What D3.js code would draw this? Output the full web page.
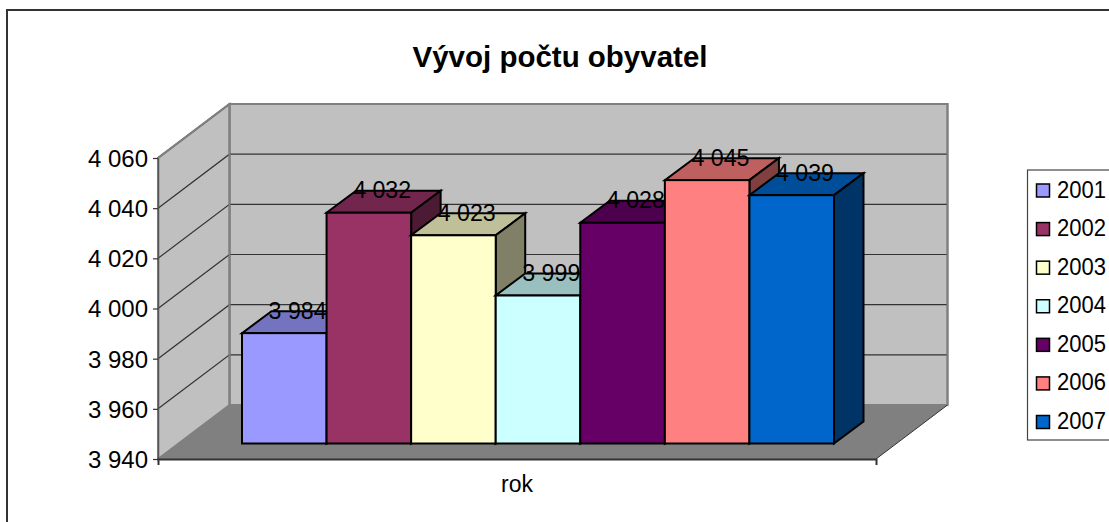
<!DOCTYPE html>
<html><head><meta charset="utf-8">
<script src="https://cdn.jsdelivr.net/npm/d3@7"></script>
<style>
html,body{margin:0;padding:0;background:#fff;overflow:hidden}
svg{display:block}
text{font-family:"Liberation Sans",Arial,sans-serif;fill:#000}
</style></head><body>
<svg id="c" width="1109" height="522"></svg>
<script>
const titleText = "Vývoj počtu obyvatel";
const categoryLabel = "rok";
const years = ["2001","2002","2003","2004","2005","2006","2007"];
const values = [3984,4032,4023,3999,4028,4045,4039];
const labels = ["3 984","4 032","4 023","3 999","4 028","4 045","4 039"];
const colors = ["#9999FF","#993366","#FFFFCC","#CCFFFF","#660066","#FF8080","#0066CC"];
const tickValues = [3940,3960,3980,4000,4020,4040,4060];
const tickLabels = ["3 940","3 960","3 980","4 000","4 020","4 040","4 060"];

const svg = d3.select("#c");
// frame
svg.append("rect").attr("x",7).attr("y",10).attr("width",1200).attr("height",600)
  .attr("fill","#fff").attr("stroke","#333").attr("stroke-width",2);

svg.append("text").attr("x",560).attr("y",67).attr("text-anchor","middle")
  .attr("font-size",29).attr("font-weight","bold")
  .attr("textLength",295).attr("lengthAdjust","spacingAndGlyphs").text(titleText);

// oblique 3D: wall plane offset
const y = d3.scaleLinear().domain([3940,4060]).range([459,158]);
const xCat = d3.scaleBand().domain([categoryLabel]).range([158,876]);
const dx = 71.5, dy = -54;           // full chart depth
const barDX = 29.5, barDY = -22;     // bar depth
const barFrontDY = -15.5;            // front face offset from chart front
const xBar = d3.scaleBand().domain(years).range([242,834]);
const pts = a => a.map(p=>p.join(",")).join(" ");
const x0 = xCat.range()[0], x1 = xCat.range()[1];
const yMin = y(tickValues[0]), yMax = y(tickValues[tickValues.length-1]);

// back wall
svg.append("polygon").attr("points",pts([[x0+dx,yMin+dy],[x1+dx,yMin+dy],[x1+dx,yMax+dy],[x0+dx,yMax+dy]]))
  .attr("fill","#C0C0C0").attr("stroke","#808080").attr("stroke-width",2);
// side wall
svg.append("polygon").attr("points",pts([[x0,yMin],[x0+dx,yMin+dy],[x0+dx,yMax+dy],[x0,yMax]]))
  .attr("fill","#C0C0C0").attr("stroke","#808080").attr("stroke-width",2);
// floor
svg.append("polygon").attr("points",pts([[x0,yMin],[x1,yMin],[x1+dx,yMin+dy],[x0+dx,yMin+dy]]))
  .attr("fill","#808080");
svg.append("line").attr("x1",x1).attr("y1",yMin).attr("x2",x1+dx).attr("y2",yMin+dy)
  .attr("stroke","#333").attr("stroke-width",1);
// gridlines
tickValues.slice(1).forEach(v=>{
  svg.append("polyline").attr("fill","none").attr("stroke","#333").attr("stroke-width",1.2)
    .attr("points",pts([[x0,y(v)],[x0+dx,y(v)+dy],[x1+dx,y(v)+dy]]));
});
// re-stroke the top edge and left corner in wall grey
svg.append("polyline").attr("fill","none").attr("stroke","#808080").attr("stroke-width",2)
  .attr("points",pts([[x0,yMax],[x0+dx,yMax+dy],[x1+dx,yMax+dy],[x1+dx,yMin+dy]]));
svg.append("line").attr("x1",x0+dx).attr("x2",x0+dx).attr("y1",yMax+dy).attr("y2",yMin+dy)
  .attr("stroke","#808080").attr("stroke-width",2);

// bars
const base = tickValues[0];
const barG = svg.append("g");
years.forEach((yr,i)=>{
  const l = xBar(yr), r = l + xBar.bandwidth();
  const b = y(base)+barFrontDY, t = y(values[i])+barFrontDY;
  const c = d3.color(colors[i]);
  const g = barG.append("g").attr("stroke","#000").attr("stroke-width",2).attr("stroke-linejoin","miter");
  g.append("polygon").attr("points",pts([[l,t],[r,t],[r+barDX,t+barDY],[l+barDX,t+barDY]]))
    .attr("fill",d3.rgb(c.r*.75,c.g*.75,c.b*.75));
  g.append("polygon").attr("points",pts([[r,b],[r+barDX,b+barDY],[r+barDX,t+barDY],[r,t]]))
    .attr("fill",d3.rgb(c.r*.5,c.g*.5,c.b*.5));
  g.append("rect").attr("x",l).attr("y",t).attr("width",r-l).attr("height",b-t).attr("fill",colors[i]);
});
// value labels
years.forEach((yr,i)=>{
  const r = xBar(yr)+xBar.bandwidth();
  svg.append("text").attr("x",r).attr("y",y(values[i])+barFrontDY+barDY+7.5)
    .attr("text-anchor","end").attr("font-size",24)
    .attr("textLength",58).attr("lengthAdjust","spacingAndGlyphs").text(labels[i]);
});

// axes
const yAxis = d3.axisLeft(y).tickValues(tickValues).tickFormat((d,i)=>tickLabels[i]).tickSizeInner(5).tickSizeOuter(0).tickPadding(5);
const gy = svg.append("g").attr("transform",`translate(${x0},0)`).call(yAxis);
gy.select(".domain").attr("stroke","#555").attr("stroke-width",1.5);
gy.selectAll(".tick line").attr("stroke","#333").attr("stroke-width",1.2);
gy.selectAll("text").attr("font-size",24).attr("dy","0.35em");
gy.attr("font-family",null);

const xAxis = d3.axisBottom(xCat).tickSizeInner(0).tickSizeOuter(6).tickPadding(17);
const gx = svg.append("g").attr("transform",`translate(0,${yMin})`).call(xAxis);
gx.attr("font-family",null);
gx.select(".domain").attr("stroke","#333").attr("stroke-width",2);
gx.selectAll("text").attr("font-size",23).attr("dy","0.71em");

// legend
const leg = svg.append("g");
leg.append("rect").attr("x",1027.5).attr("y",170).attr("width",120).attr("height",270)
  .attr("fill","#fff").attr("stroke","#444").attr("stroke-width",1.2);
const yLeg = d3.scalePoint().domain(years).range([190.5,422]);
years.forEach((yr,i)=>{
  const ly = yLeg(yr);
  leg.append("rect").attr("x",1036.5).attr("y",ly-6.5).attr("width",13).attr("height",13)
    .attr("fill",colors[i]).attr("stroke","#000").attr("stroke-width",1.5);
  leg.append("text").attr("x",1057).attr("y",ly+7).attr("font-size",24)
    .attr("textLength",49).attr("lengthAdjust","spacingAndGlyphs").text(yr);
});
</script>
</body></html>
